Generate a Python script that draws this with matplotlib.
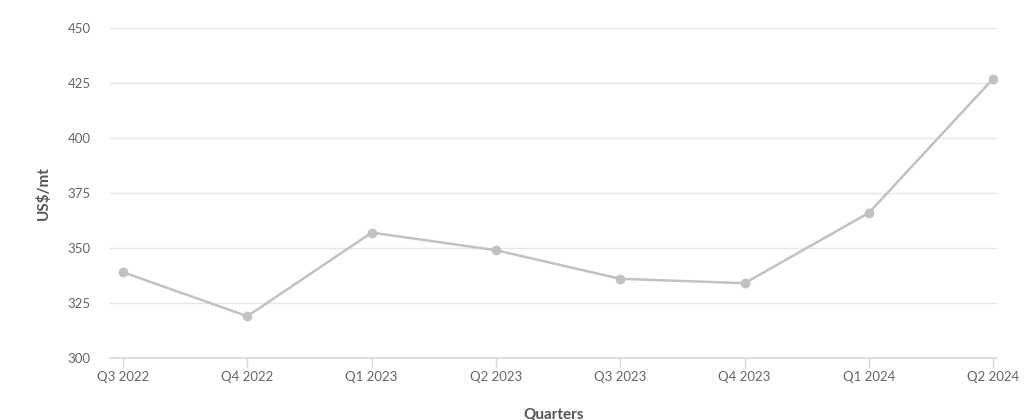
import matplotlib.pyplot as plt

# donnees
quarters = ["Q3 2022", "Q4 2022", "Q1 2023", "Q2 2023", "Q3 2023", "Q4 2023", "Q1 2024", "Q2 2024"]
prices = [339, 319, 357, 349, 336, 334, 366, 427]
y_ticks = [300, 325, 350, 375, 400, 425, 450]

plt.rcParams['font.family'] = ['Lato', 'DejaVu Sans']

fig = plt.figure(figsize=(10.24, 4.2), dpi=100)
ax = fig.add_axes([0.1074, 0.1476, 0.8662, 0.7857])

x = list(range(len(quarters)))
ax.plot(x, prices, color='#c2c2c2', linewidth=1.8, marker='o', markersize=6,
        markerfacecolor='#c2c2c2', markeredgecolor='#c2c2c2', zorder=3)

ax.set_xlim(-0.105, 7.03)
ax.set_ylim(300, 450)
ax.set_yticks(y_ticks)
ax.set_xticks(x)
ax.set_xticklabels(quarters)

ax.grid(axis='y', color='#e6e6e6', linewidth=1)
ax.set_axisbelow(True)
for s in ['top', 'right', 'left']:
    ax.spines[s].set_visible(False)
ax.spines['bottom'].set_color('#d9d9d9')
ax.spines['bottom'].set_linewidth(1.2)

ax.tick_params(axis='y', length=0, pad=14, labelsize=9.5, labelcolor='#666666')
ax.tick_params(axis='x', length=7, width=1, color='#d9d9d9', pad=2, labelsize=9.5, labelcolor='#666666')

ax.set_ylabel('US$/mt', fontsize=11, fontweight='bold', color='#555555', labelpad=12)
ax.set_xlabel('Quarters', fontsize=11, fontweight='bold', color='#555555', labelpad=18)

fig.savefig('out.png', dpi=100)
